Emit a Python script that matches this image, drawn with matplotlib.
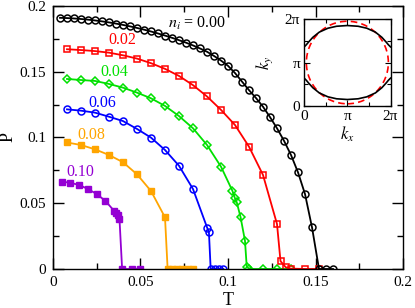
import numpy as np
import matplotlib
matplotlib.use("Agg")
import matplotlib.pyplot as plt
from matplotlib.patches import Circle

plt.rcParams['font.family'] = ['Liberation Serif', 'DejaVu Serif']
plt.rcParams['mathtext.fontset'] = 'stix'

# n_i = 0.00
T0 = [0.004, 0.008, 0.012, 0.016, 0.020, 0.024, 0.028, 0.032, 0.036, 0.040,
      0.044, 0.048, 0.052, 0.056, 0.060, 0.064, 0.068, 0.072, 0.076, 0.080,
      0.084, 0.088, 0.092, 0.096, 0.100, 0.104, 0.108, 0.112, 0.116, 0.120,
      0.124, 0.128, 0.132, 0.136, 0.140, 0.144, 0.148, 0.152, 0.156, 0.160]
P0 = [0.1910, 0.1908, 0.1905, 0.1901, 0.1896, 0.1890, 0.1883, 0.1875, 0.1866, 0.1856,
      0.1845, 0.1833, 0.1820, 0.1806, 0.1791, 0.1775, 0.1758, 0.1740, 0.1721, 0.1700,
      0.1677, 0.1652, 0.1620, 0.1585, 0.1545, 0.1490, 0.1425, 0.1360, 0.1300, 0.1234,
      0.1155, 0.1070, 0.0975, 0.0867, 0.0735, 0.0570, 0.0317, 0.0, 0.0, 0.0]

# n_i = 0.02
T2 = [0.008, 0.016, 0.024, 0.032, 0.040, 0.048, 0.056, 0.064, 0.072, 0.080,
      0.088, 0.096, 0.104, 0.112, 0.120, 0.128, 0.130, 0.133, 0.136, 0.144, 0.152]
P2 = [0.1671, 0.1665, 0.1657, 0.1645, 0.1625, 0.1600, 0.1565, 0.1522, 0.1468, 0.1398,
      0.1312, 0.1210, 0.1095, 0.0930, 0.0715, 0.0342, 0.0060, 0.0013, 0.0003, 0.0, 0.0]

# n_i = 0.04
T4 = [0.008, 0.016, 0.024, 0.032, 0.040, 0.048, 0.056, 0.064, 0.072, 0.080,
      0.088, 0.096, 0.1025, 0.104, 0.105, 0.1072, 0.1097, 0.1107, 0.1122,
      0.120, 0.128, 0.136]
P4 = [0.1445, 0.1437, 0.1430, 0.1407, 0.1379, 0.1341, 0.1298, 0.1240, 0.1163, 0.1070,
      0.0943, 0.0778, 0.0595, 0.0537, 0.0507, 0.0393, 0.0215, 0.0018, 0.0,
      0.0, 0.0, 0.0]

# n_i = 0.06
T6 = [0.008, 0.016, 0.024, 0.032, 0.040, 0.048, 0.056, 0.064, 0.072, 0.080,
      0.0882, 0.0891, 0.0901, 0.0926, 0.0950, 0.0973]
P6 = [0.1214, 0.1204, 0.1189, 0.1158, 0.1125, 0.1065, 0.0999, 0.0905, 0.0785, 0.0608,
      0.0310, 0.0279, 0.0, 0.0, 0.0, 0.0]

# n_i = 0.08
T8 = [0.008, 0.016, 0.024, 0.032, 0.040, 0.048, 0.056, 0.064, 0.0655,
      0.068, 0.071, 0.074, 0.077, 0.080]
P8 = [0.0962, 0.0943, 0.0910, 0.0867, 0.0812, 0.0720, 0.0593, 0.0393, 0.0,
      0.0, 0.0, 0.0, 0.0, 0.0]

# n_i = 0.10
T10 = [0.005, 0.010, 0.015, 0.020, 0.025, 0.030, 0.035, 0.036, 0.037, 0.038,
       0.0395, 0.045, 0.050]
P10 = [0.0665, 0.0655, 0.0639, 0.0608, 0.0570, 0.0517, 0.0441, 0.0428, 0.0410, 0.0378,
       0.0, 0.0, 0.0]

# inset: Fermi surface (units of pi)
kx = [0.0, 0.05, 0.1, 0.2, 0.35, 0.55, 0.75, 1.0, 1.25, 1.45, 1.65, 1.8, 1.9, 1.95, 2.0]
ky_up = [1.36, 1.41, 1.47, 1.58, 1.70, 1.79, 1.835, 1.852, 1.835, 1.79, 1.70, 1.58, 1.47, 1.41, 1.36]
ky_lo = [0.64, 0.59, 0.53, 0.42, 0.30, 0.21, 0.165, 0.148, 0.165, 0.21, 0.30, 0.42, 0.53, 0.59, 0.64]
circ_center = (1.0, 1.0)
circ_radius = 0.95

fig = plt.figure(figsize=(4.15, 3.08), dpi=100)
ax = fig.add_axes([0.1277, 0.1266, 0.8434, 0.854])

lw = 1.3
ms = 5
ax.plot(T10, P10, '-s', color='#9400d3', lw=lw, ms=4.5, mec='#9400d3')
ax.plot(T8, P8, '-s', color='#ffa500', lw=lw, ms=4.5, mec='#ffa500')
ax.plot(T6, P6, '-o', color='#0000ff', lw=lw, ms=ms, mfc='none', mew=1.1)
ax.plot(T4, P4, '-D', color='#00e000', lw=lw, ms=4.3, mfc='none', mew=1.1)
ax.plot(T2, P2, '-s', color='#ff0000', lw=lw, ms=4.5, mfc='none', mew=1.1)
ax.plot(T0, P0, '-o', color='black', lw=lw, ms=ms, mfc='none', mew=1.1)

ax.set_xlim(0, 0.2)
ax.set_ylim(0, 0.2)
ax.set_xticks([0, 0.05, 0.1, 0.15, 0.2])
ax.set_xticklabels(['0', '0.05', '0.1', '0.15', '0.2'])
ax.set_yticks([0, 0.05, 0.1, 0.15, 0.2])
ax.set_yticklabels(['0', '0.05', '0.1', '0.15', '0.2'])
ax.set_xticks(np.arange(0.025, 0.2, 0.05), minor=True)
ax.set_yticks(np.arange(0.025, 0.2, 0.05), minor=True)
ax.tick_params(which='both', direction='in', top=True, right=True, labelsize=11, width=1.0)
ax.tick_params(which='major', length=8, pad=5)
ax.tick_params(which='minor', length=4)
for s in ax.spines.values():
    s.set_linewidth(1.0)
ax.set_xlabel('T', fontsize=13, labelpad=2)
ax.set_ylabel('P', fontsize=13, labelpad=2)

ax.text(0.0655, 0.187, r'$n_i$ = 0.00', fontsize=11.5, color='black', va='center')
ax.text(0.0315, 0.174, '0.02', fontsize=11.5, color='#ff0000', va='center')
ax.text(0.0270, 0.150, '0.04', fontsize=11.5, color='#00e000', va='center')
ax.text(0.0200, 0.126, '0.06', fontsize=11.5, color='#0000ff', va='center')
ax.text(0.0140, 0.102, '0.08', fontsize=11.5, color='#ffa500', va='center')
ax.text(0.0075, 0.074, '0.10', fontsize=11.5, color='#9400d3', va='center')

ins = fig.add_axes([0.733, 0.656, 0.208, 0.282])
ins.plot(kx, ky_up, color='black', lw=1.2)
ins.plot(kx, ky_lo, color='black', lw=1.2)
ins.add_patch(Circle(circ_center, circ_radius, fill=False, ec='#ff0000', lw=1.2, ls=(0, (4, 2.5))))
ins.set_xlim(0, 2)
ins.set_ylim(0, 2)
ins.set_xticks([0, 1, 2])
ins.set_xticklabels(['0', 'π', '2π'])
ins.set_yticks([0, 1, 2])
ins.set_yticklabels(['0', 'π', '2π'])
ins.set_xticks([0.5, 1.5], minor=True)
ins.set_yticks([0.5, 1.5], minor=True)
ins.tick_params(which='both', direction='in', top=True, right=True, labelsize=11, width=0.8, pad=3)
ins.tick_params(which='major', length=4)
ins.tick_params(which='minor', length=3)
for s in ins.spines.values():
    s.set_linewidth(1.0)
ins.set_xlabel(r'$k_x$', fontsize=12, labelpad=1)
ins.set_ylabel(r'$k_y$', fontsize=12, labelpad=7)

fig.savefig('out.png', dpi=100)
